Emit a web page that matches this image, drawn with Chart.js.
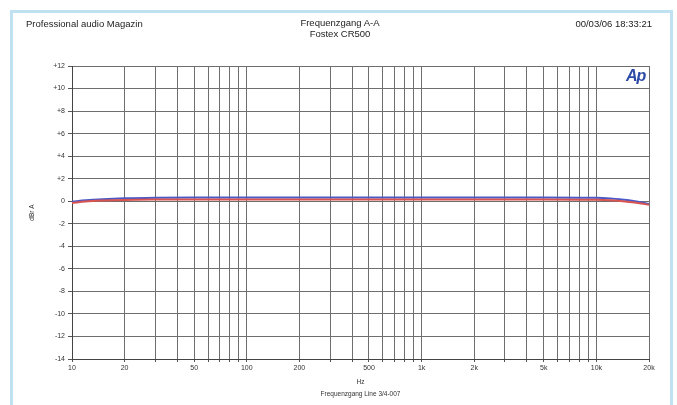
<!DOCTYPE html>
<html>
<head>
<meta charset="utf-8">
<script src="https://cdn.jsdelivr.net/npm/chart.js@4.4.1/dist/chart.umd.min.js"></script>
<style>
  html, body { margin: 0; padding: 0; background: #ffffff; }
  #wrap { position: relative; width: 677px; height: 405px; overflow: hidden; background: #fff; }
  #frame { position: absolute; left: 10px; top: 10px; width: 657px; height: 420px; border: 3px solid #bfe1f2; box-sizing: content-box; }
  canvas { position: absolute; left: 0; top: 0; }
  .hdr { position: absolute; font-family: "Liberation Sans", Arial, sans-serif; font-size: 9.5px; color: #222; white-space: nowrap; }
  #left { left: 26px; top: 18px; }
  #center { left: 290px; width: 100px; top: 17px; text-align: center; line-height: 11px; }
  #right { right: 25px; top: 18px; }
  #ap { position: absolute; left: 626px; top: 67px; font-family: "Liberation Sans", Arial, sans-serif; font-weight: bold; font-style: italic; font-size: 16px; color: #2d4aa6; letter-spacing: -1px; }
</style>
</head>
<body>
<div id="wrap">
  <canvas id="c" width="677" height="405"></canvas>
  <div id="frame"></div>
  <div class="hdr" id="left">Professional audio Magazin</div>
  <div class="hdr" id="center">Frequenzgang A-A<br>Fostex CR500</div>
  <div class="hdr" id="right">00/03/06 18:33:21</div>
  <div id="ap">Ap</div>
</div>
<script>
// ---- data ----
const freqs      = [10, 12, 15, 20, 30, 50, 100, 200, 500, 1000, 2000, 5000, 10000, 12000, 15000, 18000, 20000];
const blueLevels = [-0.05, 0.08, 0.18, 0.26, 0.31, 0.33, 0.33, 0.33, 0.33, 0.33, 0.33, 0.33, 0.30, 0.24, 0.10, -0.10, -0.25];
const redLevels  = [-0.15, -0.02, 0.06, 0.12, 0.15, 0.16, 0.16, 0.16, 0.16, 0.16, 0.16, 0.16, 0.13, 0.08, -0.05, -0.20, -0.32];
const xTickValues = [10,20,30,40,50,60,70,80,90,100,200,300,400,500,600,700,800,900,1000,2000,3000,4000,5000,6000,7000,8000,9000,10000,20000];
const xTickLabels = {10:'10',20:'20',50:'50',100:'100',200:'200',500:'500',1000:'1k',2000:'2k',5000:'5k',10000:'10k',20000:'20k'};
const yMajorTicks = [12,10,8,6,4,2,0,-2,-4,-6,-8,-10,-12,-14];
const yTickLabels = ['+12','+10','+8','+6','+4','+2','0','-2','-4','-6','-8','-10','-12','-14'];

const toPts = (arr) => freqs.map((f, i) => ({x: f, y: arr[i]}));
const tickFont = {family: '"Liberation Sans", Arial, sans-serif', size: 7};

new Chart(document.getElementById('c'), {
  type: 'line',
  data: {
    datasets: [
      {label: 'R', data: toPts(redLevels), borderColor: '#d9544f', borderWidth: 2, pointRadius: 0, cubicInterpolationMode: 'monotone'},
      {label: 'L', data: toPts(blueLevels), borderColor: '#4b59c6', borderWidth: 2, pointRadius: 0, cubicInterpolationMode: 'monotone'}
    ]
  },
  options: {
    responsive: false,
    animation: false,
    devicePixelRatio: 1,
    layout: {padding: {left: 28, right: 28, top: 66, bottom: 0}},
    plugins: {legend: {display: false}, tooltip: {enabled: false}},
    scales: {
      x: {
        type: 'logarithmic', min: 10, max: 20000,
        afterBuildTicks: (s) => { s.ticks = xTickValues.map(v => ({value: v})); },
        afterFit: (s) => { s.height = 46; },
        ticks: {autoSkip: false, maxRotation: 0, minRotation: 0, color: '#333', font: tickFont, padding: 2,
          callback: (v) => xTickLabels[v] || ''},
        grid: {color: '#6e6e6e', lineWidth: 1, tickLength: 3, tickColor: '#555'},
        border: {color: '#444', width: 1},
        title: {display: true, text: ['Hz', 'Frequenzgang Line 3/4-007'], color: '#333', font: {family: '"Liberation Sans", Arial, sans-serif', size: 6.5, lineHeight: 1.8}, padding: {top: 0, bottom: 5}}
      },
      y: {
        type: 'linear', min: -14, max: 12,
        afterBuildTicks: (s) => { s.ticks = yMajorTicks.map(v => ({value: v})); },
        afterFit: (s) => { s.width = 44; },
        ticks: {autoSkip: false, color: '#333', font: tickFont, padding: 3,
          callback: (v) => { const i = yMajorTicks.indexOf(v); return i >= 0 ? yTickLabels[i] : ''; }},
        grid: {color: '#6e6e6e', lineWidth: 1, tickLength: 4, tickColor: '#555'},
        border: {color: '#444', width: 1},
        title: {display: true, text: 'dBr A', color: '#333', font: {family: '"Liberation Sans", Arial, sans-serif', size: 6.5}, padding: 0}
      }
    }
  }
});
</script>
</body>
</html>
